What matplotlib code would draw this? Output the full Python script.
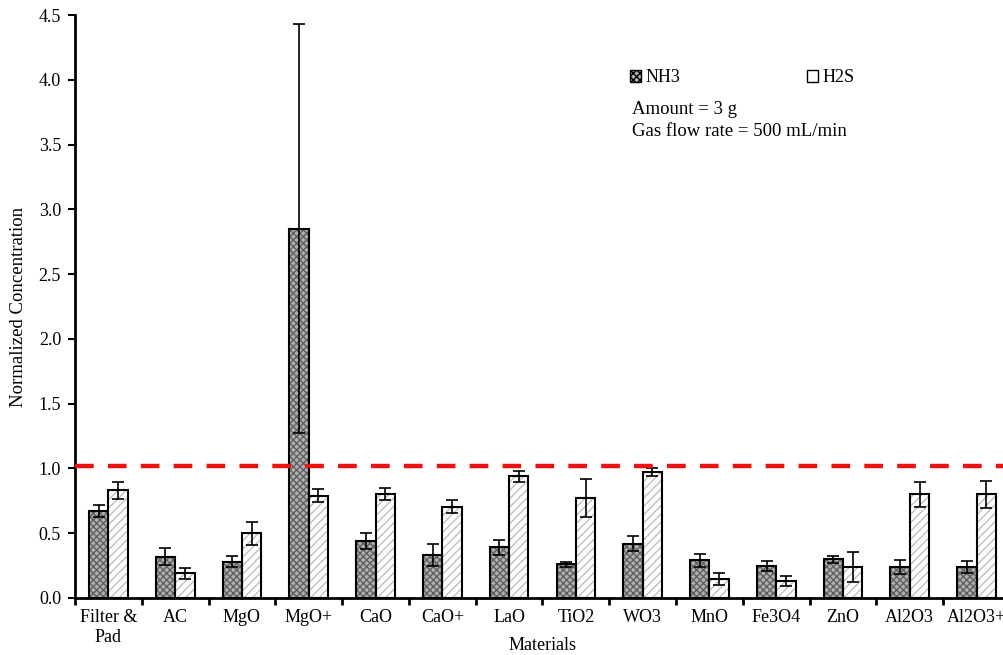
import matplotlib
matplotlib.use('Agg')
import matplotlib.pyplot as plt
from matplotlib.patches import Patch
import numpy as np

plt.rcParams['font.family'] = ['Liberation Serif', 'DejaVu Serif']
plt.rcParams['hatch.linewidth'] = 1.0

materials = ['Filter &\nPad', 'AC', 'MgO', 'MgO+', 'CaO', 'CaO+', 'LaO', 'TiO2',
             'WO3', 'MnO', 'Fe3O4', 'ZnO', 'Al2O3', 'Al2O3+']
nh3 = [0.67, 0.32, 0.28, 2.85, 0.44, 0.33, 0.39, 0.26, 0.42, 0.29, 0.25, 0.30, 0.24, 0.24]
nh3_err = [0.045, 0.065, 0.044, 1.58, 0.063, 0.085, 0.06, 0.02, 0.055, 0.049, 0.039, 0.028, 0.054, 0.045]
h2s = [0.83, 0.19, 0.50, 0.79, 0.805, 0.705, 0.94, 0.775, 0.97, 0.147, 0.13, 0.24, 0.80, 0.80]
h2s_err = [0.065, 0.044, 0.09, 0.05, 0.045, 0.048, 0.041, 0.147, 0.031, 0.049, 0.036, 0.116, 0.098, 0.105]
limit = 1.02

fig = plt.figure(figsize=(10.04, 6.55), dpi=100)
ax = fig.add_axes([75 / 1004, 57 / 655, 935 / 1004, 583 / 655])

x = np.arange(len(materials))
w = 0.29

# hatched fill first, then black outline on top
ax.bar(x - w / 2, nh3, w, color='#b0b0b0', edgecolor='#606060', hatch='xxxxx', lw=0, zorder=2)
ax.bar(x - w / 2, nh3, w, fill=False, edgecolor='black', lw=1.5, zorder=3)
ax.bar(x + w / 2, h2s, w, color='white', edgecolor='#c0c0c0', hatch='////', lw=0, zorder=2)
ax.bar(x + w / 2, h2s, w, fill=False, edgecolor='black', lw=1.5, zorder=3)

ax.errorbar(x - w / 2, nh3, yerr=nh3_err, fmt='none', ecolor='black', elinewidth=1.2,
            capsize=4, capthick=1.2, zorder=4)
ax.errorbar(x + w / 2, h2s, yerr=h2s_err, fmt='none', ecolor='black', elinewidth=1.2,
            capsize=4, capthick=1.2, zorder=4)

ax.axhline(limit, color='#ee1111', lw=3.2, ls=(0, (4.2, 3.2)), zorder=5)

ax.set_xlim(-0.5, len(materials) - 0.5)
ax.set_ylim(0, 4.5)
ax.set_yticks(np.arange(0, 4.51, 0.5))
ax.set_yticklabels(['%.1f' % v for v in np.arange(0, 4.51, 0.5)])
ax.set_xticks(x)
ax.set_xticklabels(materials)
ax.set_xticks(np.arange(-0.5, len(materials), 1), minor=True)
ax.tick_params(axis='x', which='major', length=0, pad=8, labelsize=13)
ax.tick_params(axis='x', which='minor', length=5, width=2, direction='out')
ax.tick_params(axis='y', length=5, width=1.5, direction='out', labelsize=13, pad=5)

for s in ['top', 'right']:
    ax.spines[s].set_visible(False)
for s in ['left', 'bottom']:
    ax.spines[s].set_linewidth(2)

ax.set_ylabel('Normalized Concentration', fontsize=13.5, labelpad=8)
ax.set_xlabel('Materials', fontsize=13, labelpad=-6)

handles = [Patch(facecolor='#b0b0b0', edgecolor='black', hatch='xxxxx'),
           Patch(facecolor='white', edgecolor='black')]
fig.legend(handles, ['NH3', 'H2S'], ncol=2, frameon=False, fontsize=13,
           handlelength=0.6, handleheight=0.6, handletextpad=0.25, columnspacing=7.0,
           loc='upper left', bbox_to_anchor=(614 / 1004, 1 - 53 / 655))

fig.text(632 / 1004, 1 - 109 / 655, 'Amount = 3 g', fontsize=13.5, va='center')
fig.text(632 / 1004, 1 - 131 / 655, 'Gas flow rate = 500 mL/min', fontsize=13.5, va='center')

fig.savefig('out.png', dpi=100)
